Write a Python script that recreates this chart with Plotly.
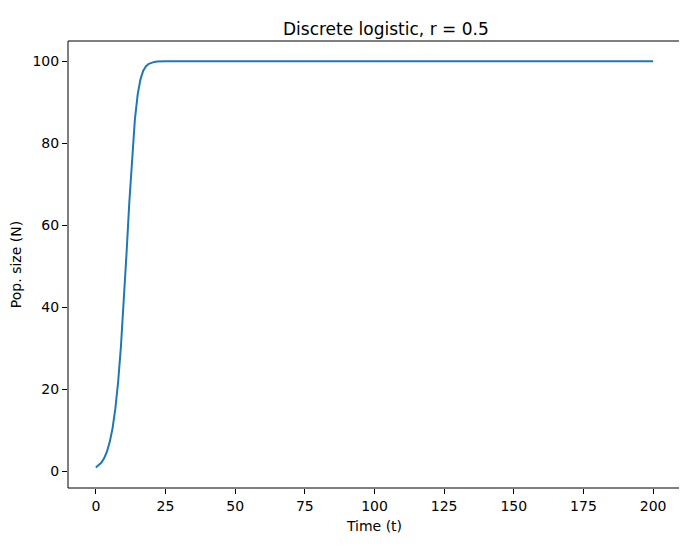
import plotly.graph_objects as go

# time steps and population
t = [0, 1, 2, 3, 4, 5, 6, 7, 8, 9, 10, 11, 12, 13, 14, 15, 16, 17, 18, 19, 20,
     21, 22, 23, 24, 25, 50, 100, 150, 200]
N = [1.0, 1.5, 2.2, 3.3, 4.9, 7.3, 10.6, 15.4, 21.9, 30.5, 41.0, 53.1, 65.6,
     76.9, 85.8, 91.9, 95.6, 97.7, 98.8, 99.4, 99.7, 99.85, 99.93, 99.96,
     99.98, 99.99, 100, 100, 100, 100]

x_ticks = [0, 25, 50, 75, 100, 125, 150, 175, 200]
y_ticks = [0, 20, 40, 60, 80, 100]

fig = go.Figure(go.Scatter(x=t, y=N, mode="lines",
                           line=dict(color="#1f77b4", width=2)))

axis_style = dict(showgrid=False, zeroline=False, showline=False,
                  ticks="outside", ticklen=5, tickcolor="black",
                  automargin=False,
                  tickfont=dict(size=14, color="black"))

fig.update_xaxes(range=[-10, 210], tickvals=x_ticks,
                 title=dict(text="Time (t)", standoff=8,
                            font=dict(size=14, color="black")),
                 **axis_style)
fig.update_yaxes(range=[-4.0, 104.95], tickvals=y_ticks,
                 title=dict(text="Pop. size (N)", standoff=8,
                            font=dict(size=14, color="black")),
                 **axis_style)

# axes frame
fig.add_shape(type="rect", xref="paper", yref="paper", x0=0, y0=0, x1=1, y1=1,
              line=dict(color="black", width=1), layer="above")

fig.update_layout(
    width=687, height=546,
    title=dict(text="Discrete logistic, r = 0.5", x=0.55, xanchor="center",
               y=0.962, yanchor="middle", font=dict(size=17, color="black")),
    font=dict(family="DejaVu Sans"),
    plot_bgcolor="white", paper_bgcolor="white",
    showlegend=False,
    margin=dict(l=60, r=14, t=33, b=66),
)

fig.write_html("out.html")
